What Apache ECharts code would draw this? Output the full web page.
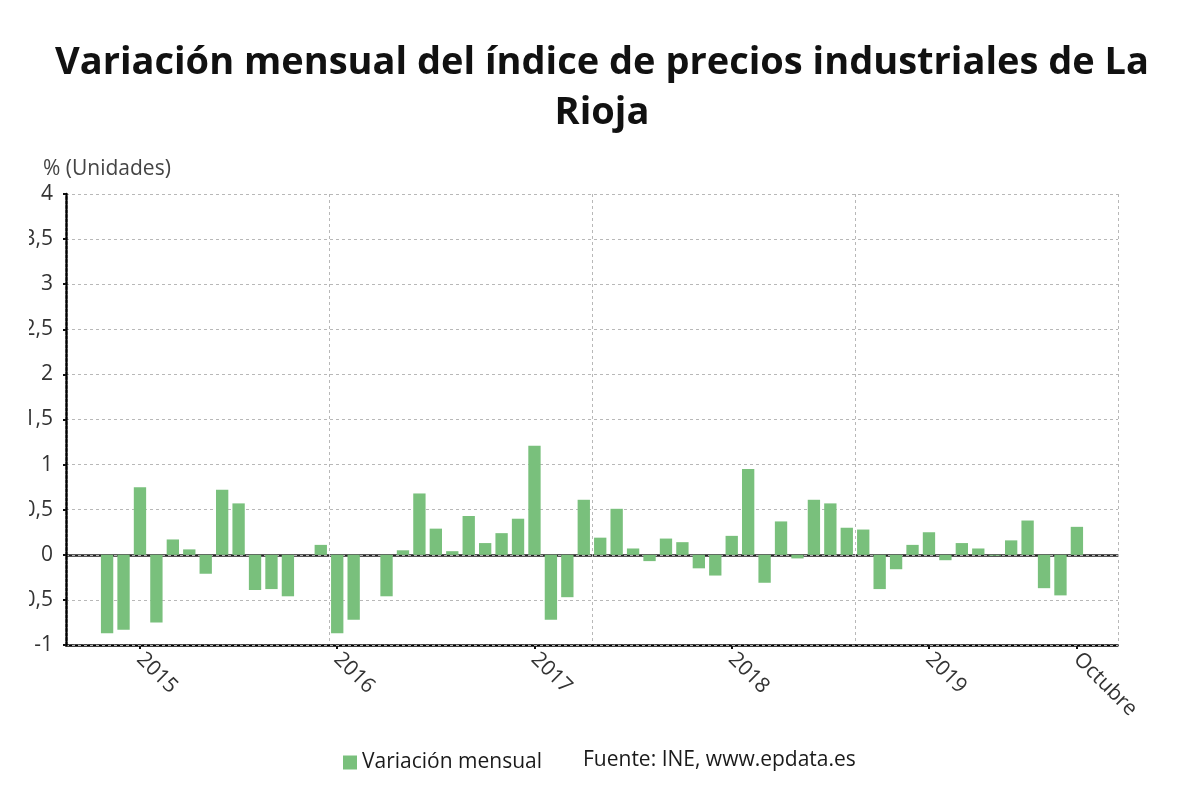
<!DOCTYPE html>
<html>
<head>
<meta charset="utf-8">
<script src="https://cdn.jsdelivr.net/npm/echarts@6/dist/echarts.min.js"></script>
<style>
html,body{margin:0;padding:0;background:#fff;}
#chart{width:1200px;height:808px;}
</style>
</head>
<body>
<div id="chart"></div>
<script>
// Months on the axis: Sep 2014 .. Dec 2019 (data from Nov 2014 to Oct 2019)
const years = [2014, 2015, 2016, 2017, 2018, 2019];
const monthNames = ['ene','feb','mar','abr','may','jun','jul','ago','sep','oct','nov','dic'];
const categories = [];
years.forEach(y => monthNames.forEach((m, i) => {
  if ((y === 2014 && i < 8)) return;
  categories.push(m + ' ' + y);
}));
const firstDataMonth = 'nov 2014';
// Variación mensual (%) Nov 2014 .. Oct 2019
const values = [
  -0.87, -0.83,
  0.75, -0.75, 0.17, 0.06, -0.21, 0.72, 0.57, -0.39, -0.38, -0.46, 0, 0.11,
  -0.87, -0.72, 0, -0.46, 0.05, 0.68, 0.29, 0.04, 0.43, 0.13, 0.24, 0.40,
  1.21, -0.72, -0.47, 0.61, 0.19, 0.51, 0.07, -0.07, 0.18, 0.14, -0.15, -0.23,
  0.21, 0.95, -0.31, 0.37, -0.04, 0.61, 0.57, 0.30, 0.28, -0.38, -0.16, 0.11,
  0.25, -0.06, 0.13, 0.07, -0.01, 0.16, 0.38, -0.37, -0.45, 0.31
];
const tickLabels = {
  'ene 2015': '2015', 'ene 2016': '2016', 'ene 2017': '2017',
  'ene 2018': '2018', 'ene 2019': '2019', 'oct 2019': 'Octubre'
};
const yTicks = [-1, -0.5, 0, 0.5, 1, 1.5, 2, 2.5, 3, 3.5, 4];
const seriesName = 'Variación mensual';
const sourceText = 'Fuente: INE, www.epdata.es';
const titleText = 'Variación mensual del índice de precios industriales de La\nRioja';
const yUnit = '% (Unidades)';

const startIdx = categories.indexOf(firstDataMonth);
const seriesData = categories.map((c, i) => {
  const k = i - startIdx;
  return (k >= 0 && k < values.length) ? values[k] : null;
});

const FONT = "'Open Sans', 'Noto Sans', sans-serif";
const chart = echarts.init(document.getElementById('chart'), null, {renderer: 'canvas'});
chart.setOption({
  backgroundColor: '#fff',
  animation: false,
  textStyle: {fontFamily: FONT},
  title: {
    text: titleText,
    left: 597,
    top: 33,
    textAlign: 'center',
    textStyle: {fontFamily: FONT, fontWeight: 700, fontSize: 38, lineHeight: 50, color: '#111', align: 'center'}
  },
  grid: {left: 66, right: 82, top: 194, bottom: 163, containLabel: false},
  legend: {
    show: true,
    left: 338,
    top: 747,
    itemWidth: 14,
    itemHeight: 14,
    icon: 'rect',
    itemGap: 6,
    textStyle: {fontFamily: FONT, fontSize: 21, color: '#1a1a1a'},
    data: [seriesName]
  },
  xAxis: {
    type: 'category',
    data: categories,
    boundaryGap: true,
    z: 10,
    axisLine: {show: true, onZero: false, lineStyle: {color: '#000', width: 2.5, type: [3, 1.5]}},
    axisTick: {
      show: true, alignWithLabel: true, length: 4,
      interval: (i, v) => !!tickLabels[v],
      lineStyle: {color: '#111', width: 2}
    },
    axisLabel: {
      interval: (i, v) => !!tickLabels[v],
      formatter: v => tickLabels[v] || '',
      rotate: -45,
      margin: 11,
      fontFamily: FONT,
      fontSize: 21,
      color: '#333'
    },
    splitLine: {
      show: true,
      interval: (i) => i % 16 === 0,
      lineStyle: {color: '#b8b8b8', width: 1, type: [3, 3]}
    }
  },
  yAxis: {
    type: 'value',
    min: -1, max: 4, interval: 0.5,
    z: 11,
    name: yUnit,
    nameLocation: 'end',
    nameGap: 14,
    nameTextStyle: {fontFamily: FONT, fontSize: 21, color: '#444', align: 'left', padding: [0, 0, 0, -23]},
    axisLine: {show: true, lineStyle: {color: '#000', width: 2.5, type: [3, 1.5]}},
    axisTick: {show: true, length: 3, lineStyle: {color: '#111', width: 2}},
    axisLabel: {
      fontFamily: FONT, fontSize: 21, color: '#333', margin: 13,
      formatter: v => {
        const t = yTicks.find(x => Math.abs(x - v) < 1e-9);
        return String(t === undefined ? v : t).replace('.', ',');
      }
    },
    splitLine: {show: true, lineStyle: {color: '#b8b8b8', width: 1, type: [3, 3]}}
  },
  series: [{
    name: seriesName,
    type: 'bar',
    z: 12,
    data: seriesData,
    barCategoryGap: '25%',
    itemStyle: {color: '#79c07c'},
    markLine: {
      silent: true,
      symbol: ['none', 'none'],
      label: {show: false},
      lineStyle: {color: '#222', width: 2.5, type: 'solid'},
      data: [{yAxis: 0}]
    }
  }],
  graphic: [
    {type: 'text', left: 583, top: 750, z: 100,
     style: {text: sourceText, font: "21px 'Open Sans', sans-serif", fill: '#1a1a1a'}},
    {type: 'rect', left: 0, top: 220, z: 100, shape: {width: 29, height: 400}, style: {fill: '#fff'}}
  ]
});
</script>
</body>
</html>
